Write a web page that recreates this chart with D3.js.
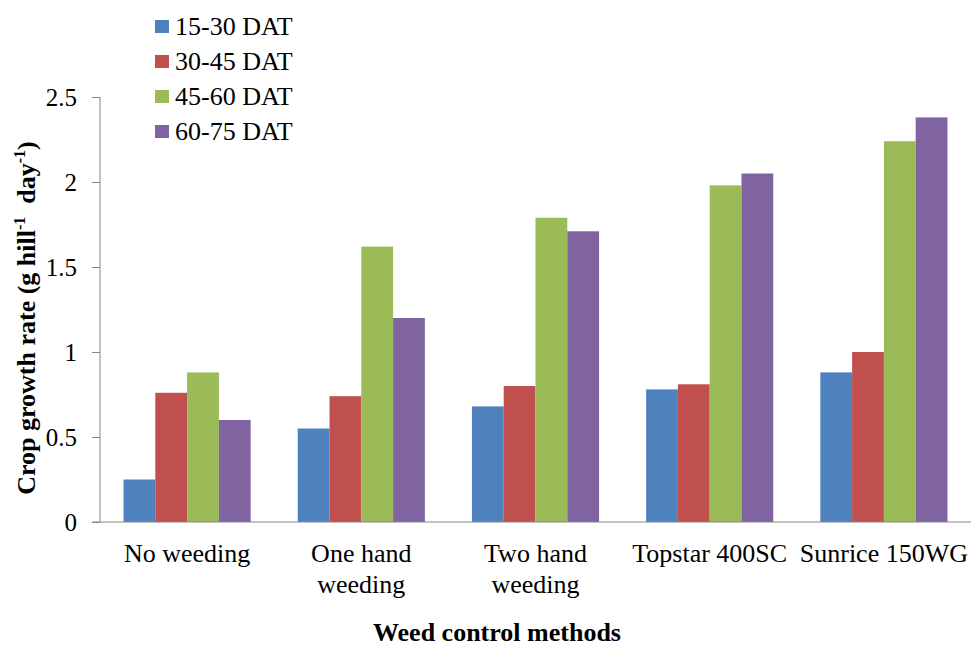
<!DOCTYPE html>
<html>
<head>
<meta charset="utf-8">
<script src="https://cdn.jsdelivr.net/npm/d3@7"></script>
<style>
  body { margin: 0; background: #fff; }
  svg text { font-family: "Liberation Serif", "Times New Roman", serif; }
</style>
</head>
<body>
<svg width="971" height="647"></svg>
<script>

// data
var methods = ['No weeding', 'One hand weeding', 'Two hand weeding', 'Topstar 400SC', 'Sunrice 150WG'];
var methodLines = [['No weeding'], ['One hand', 'weeding'], ['Two hand', 'weeding'], ['Topstar 400SC'], ['Sunrice 150WG']];
var periods = ['15-30 DAT', '30-45 DAT', '45-60 DAT', '60-75 DAT'];
var dat15_30 = [0.25, 0.55, 0.68, 0.78, 0.88];
var dat30_45 = [0.76, 0.74, 0.80, 0.81, 1.00];
var dat45_60 = [0.88, 1.62, 1.79, 1.98, 2.24];
var dat60_75 = [0.60, 1.20, 1.71, 2.05, 2.38];
var yTicks = [0, 0.5, 1, 1.5, 2, 2.5];
var colors = ['#4F81BD', '#C0504D', '#9BBB59', '#8064A2'];

var series = [dat15_30, dat30_45, dat45_60, dat60_75];

var svg = d3.select('svg');

var plotLeft = 100, plotRight = 971, plotTop = 97, plotBottom = 522;

var x = d3.scaleBand()
          .domain(methods)
          .range([plotLeft, plotRight])
          .paddingInner(0.27)
          .paddingOuter(0.135);

var x1 = d3.scaleBand()
           .domain(periods)
           .range([0, x.bandwidth()]);

var y = d3.scaleLinear()
          .domain([0, 2.5])
          .range([plotBottom, plotTop]);

var color = d3.scaleOrdinal().domain(periods).range(colors);

// bars
var groups = svg.selectAll('g.method')
                .data(methods)
                .enter()
                .append('g')
                  .attr('class', 'method')
                  .attr('transform', function(d){ return 'translate(' + x(d) + ',0)' });

groups.selectAll('rect')
      .data(function(d, i){ return periods.map(function(p, j){ return {period: p, value: series[j][i]} }) })
      .enter()
      .append('rect')
        .attr('x', function(d){ return x1(d.period) })
        .attr('width', x1.bandwidth())
        .attr('y', function(d){ return y(d.value) })
        .attr('height', function(d){ return y(0) - y(d.value) })
        .style('fill', function(d){ return color(d.period) });

// y axis
var yAxis = d3.axisLeft(y)
              .tickValues(yTicks)
              .tickFormat(function(d){ return d })
              .tickSize(8)
              .tickPadding(15);

var yg = svg.append('g')
            .attr('transform', 'translate(' + plotLeft + ',0)')
            .call(yAxis);
yg.select('.domain').attr('stroke', '#868686').attr('d', 'M0,' + plotTop + 'V' + plotBottom);
yg.selectAll('.tick line').attr('stroke', '#868686');
yg.selectAll('.tick text')
  .style('font-family', '"Liberation Serif", serif')
  .style('font-size', '25px')
  .style('fill', '#000');

// x axis line
var xAxis = d3.axisBottom(x).tickSize(0).tickFormat('');
var xg = svg.append('g')
            .attr('transform', 'translate(0,' + plotBottom + ')')
            .call(xAxis);
xg.select('.domain').attr('stroke', '#868686').attr('d', 'M' + (plotLeft - 8) + ',0H' + plotRight);

// category labels
var labels = svg.selectAll('text.cat')
                .data(methods)
                .enter()
                .append('text')
                  .attr('class', 'cat')
                  .attr('x', function(d){ return x(d) + x.bandwidth() / 2 })
                  .attr('y', 562)
                  .attr('text-anchor', 'middle')
                  .style('font-size', '26px');

labels.selectAll('tspan')
      .data(function(d, i){ return methodLines[i] })
      .enter()
      .append('tspan')
        .attr('x', function(){ return d3.select(this.parentNode).attr('x') })
        .attr('dy', function(d, i){ return i ? 31 : 0 })
        .text(function(d){ return d });

// axis titles
svg.append('text')
   .attr('x', 497)
   .attr('y', 641)
   .attr('text-anchor', 'middle')
   .style('font-size', '26px')
   .style('font-weight', 'bold')
   .text('Weed control methods');

var yt = svg.append('text')
            .attr('transform', 'translate(35,318) rotate(-90)')
            .attr('text-anchor', 'middle')
            .style('font-size', '26px')
            .style('font-weight', 'bold');
yt.append('tspan').text('Crop growth rate (g hill');
yt.append('tspan').attr('dy', -10).style('font-size', '16px').text('-1');
yt.append('tspan').attr('dy', 10).text('\u00a0 day');
yt.append('tspan').attr('dy', -10).style('font-size', '16px').text('-1');
yt.append('tspan').attr('dy', 10).text(')');

// legend
var legend = svg.selectAll('g.legend')
                .data(periods)
                .enter()
                .append('g')
                  .attr('class', 'legend')
                  .attr('transform', function(d, i){ return 'translate(155,' + (20 + i * 35) + ')' });

legend.append('rect')
      .attr('width', 14)
      .attr('height', 13)
      .style('fill', function(d){ return color(d) });

legend.append('text')
      .attr('x', 20)
      .attr('y', 15)
      .style('font-family', '"Liberation Serif", serif')
      .style('font-size', '26px')
      .text(function(d){ return d });

</script>
</body>
</html>
